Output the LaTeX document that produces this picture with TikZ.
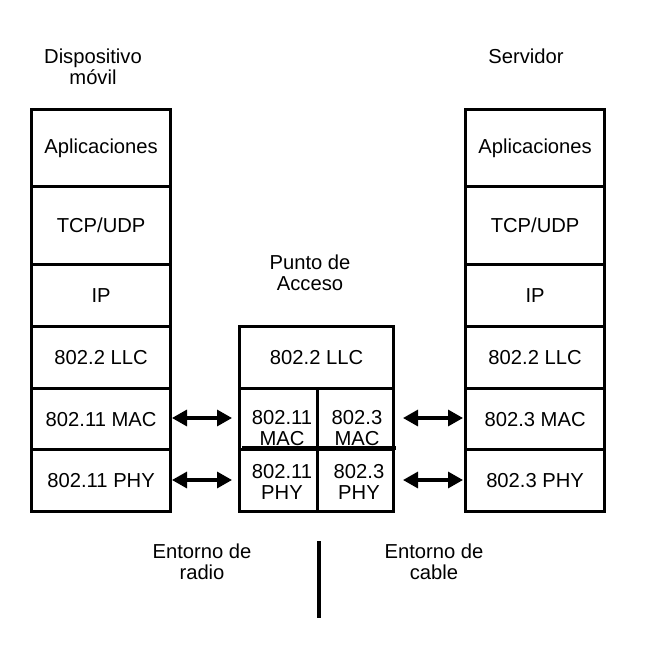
\documentclass[tikz,border=0pt]{standalone}
\usepackage{fontspec}
\setmainfont{Liberation Sans}
\usetikzlibrary{arrows.meta}
\begin{document}
\begin{tikzpicture}[x=1pt,y=-1pt,
  every node/.style={font=\fontsize{20.2}{21.5}\selectfont, align=center, inner sep=0pt},
  cell/.style={draw, line width=3.2pt, minimum width=#1, anchor=north west},
  link/.style={line width=3.2pt, {Triangle[length=15pt,width=16pt]}-{Triangle[length=15pt,width=16pt]}}]
\useasboundingbox (0,0) rectangle (650,650);
% left stack
\node[cell=139pt, minimum height=77pt] (la) at (30,108) {Aplicaciones};
\node[cell=139pt, minimum height=78pt] (lt) at (30,185) {TCP/UDP};
\node[cell=139pt, minimum height=62pt] (li) at (30,263) {IP};
\node[cell=139pt, minimum height=62pt] (ll) at (30,325) {802.2 LLC};
\node[cell=139pt, minimum height=61pt] (lm) at (30,387) {802.11 MAC};
\node[cell=139pt, minimum height=62pt] (lp) at (30,448) {802.11 PHY};
% right stack
\node[cell=139pt, minimum height=77pt] (ra) at (464,108) {\raisebox{-3pt}{Aplicaciones}};
\node[cell=139pt, minimum height=78pt] (rt) at (464,185) {TCP/UDP};
\node[cell=139pt, minimum height=62pt] (ri) at (464,263) {IP};
\node[cell=139pt, minimum height=62pt] (rl) at (464,325) {802.2 LLC};
\node[cell=139pt, minimum height=61pt] (rm) at (464,387) {802.3 MAC};
\node[cell=139pt, minimum height=62pt] (rp) at (464,448) {802.3 PHY};
% middle
\node[cell=154pt, minimum height=62pt] (ml) at (238,325) {802.2 LLC};
\node[cell=78pt, minimum height=61pt] (mm1) at (238,387) {};
\node[cell=76pt, minimum height=61pt] (mm2) at (316,387) {};
\node[cell=78pt, minimum height=62pt] (mp1) at (238,448) {};
\node[cell=76pt, minimum height=62pt] (mp2) at (316,448) {};
\draw[line width=3.2pt] (242,448) -- (396,448);
\node (tm1) at (282,428) {802.11\\MAC};
\node (tm2) at (357,428) {802.3\\MAC};
\node (tp1) at (282,482) {802.11\\PHY};
\node (tp2) at (359,482) {802.3\\PHY};
% arrows
\coordinate (a1) at (172,418); \coordinate (a2) at (232,418);
\coordinate (a3) at (172,480); \coordinate (a4) at (232,480);
\coordinate (a5) at (403,418); \coordinate (a6) at (463,418);
\coordinate (a7) at (403,480); \coordinate (a8) at (463,480);
\draw[link] (a1) -- (a2);
\draw[link] (a3) -- (a4);
\draw[link] (a5) -- (a6);
\draw[link] (a7) -- (a8);
% labels
\node (d) at (93,67) {Dispositivo\\móvil};
\node (s) at (526,56) {Servidor};
\node (p) at (310,273) {Punto de\\Acceso};
\node (er) at (202,562) {Entorno de\\radio};
\node (ec) at (434,562) {Entorno de\\cable};
\coordinate (v1) at (319,541); \coordinate (v2) at (319,618);
\draw[line width=3.2pt] (v1) -- (v2);
\end{tikzpicture}
\end{document}
